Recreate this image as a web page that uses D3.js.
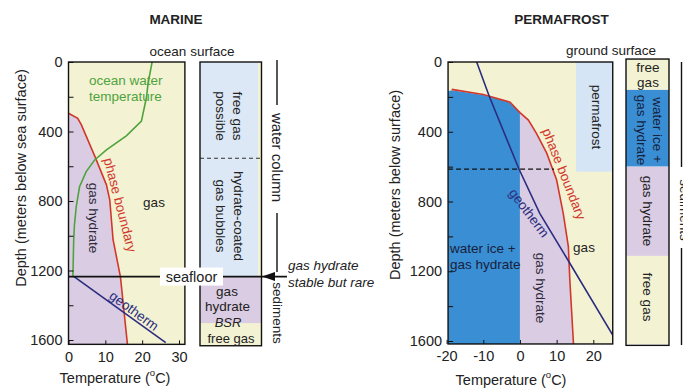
<!DOCTYPE html>
<html><head><meta charset="utf-8">
<script src="https://cdn.jsdelivr.net/npm/d3@7"></script>
<style>body{margin:0;background:#fff} svg{display:block} text{font-family:"Liberation Sans",Arial,sans-serif}</style>
</head><body>
<svg id="c" width="683" height="388"></svg>
<script>
// ---------- data ----------
const depthMajor = [0, 400, 800, 1200, 1600];
const depthMinor = [200, 600, 1000, 1400];
const marineTempTicks = [0, 10, 20, 30];
const permTempTicks = [-20, -10, 0, 10, 20];

// marine panel [temperature C, depth m]
const marinePhase = [[0,295],[2.5,324],[3.5,362],[7.1,540],[10.3,707],[11.2,793],[12.1,1023],[14.1,1236],[16.0,1625]];
const oceanTemp = [[22.7,0],[21.6,123],[21.2,200],[19.8,340],[15.7,425],[10.3,506],[7.1,564],[4.8,631],[3.0,718],[2.1,833],[1.6,940],[1.4,1030],[1.2,1235]];
const marineGeotherm = [[1.5,1235],[26.4,1615]];
const seafloorDepth = 1235;
const marineColumn = [ // [top, bottom, kind]
  [0, 1235, 'water'], [1235, 1504, 'hydrate'], [1504, 1633, 'gas']];
const marineColumnDash = 554;

// permafrost panel
const permPhase = [[-18.6,157],[-10,186],[-2.7,230],[0,290],[2.3,333],[4.5,409],[7.3,523],[10,677],[11.8,868],[13.2,1059],[13.6,1250],[14.6,1617]];
const permIceTop = [[-19.6,168],[-18.6,162],[-10,189],[-2.7,233],[0,290]];
const permGeotherm = [[-11.8,0],[-8.4,195],[-0.3,612],[5.4,868],[13.6,1154],[25.3,1566]];
const permafrostBase = 629;
const permDash = 614;
const permColumn = [[-17,160,'gas'],[160,600,'ice'],[600,1112,'hydrate'],[1112,1617,'gas']];

// ---------- style ----------
const C = {yellow:'#f3f2d3', purple:'#dacce3', lblue:'#dce8f5', blue:'#3a8ed3', pblue:'#d5e5f5',
  red:'#d2372c', green:'#4fa33d', navy:'#2c2d80', ink:'#222'};
const svg = d3.select('#c');

function label(x, y, s, o = {}) {
  const t = svg.append('text').attr('x', x).attr('y', y).text(s)
    .attr('font-size', o.size || 13.5).attr('fill', o.fill || C.ink)
    .attr('text-anchor', o.anchor || 'middle').attr('dominant-baseline', 'central');
  if (o.rotate != null) t.attr('transform', `rotate(${o.rotate},${x},${y})`);
  if (o.weight) t.attr('font-weight', o.weight);
  if (o.italic) t.attr('font-style', 'italic');
  return t;
}
function tempTitle(x, y) {
  const t = svg.append('text').attr('x', x).attr('y', y).attr('text-anchor', 'middle')
    .attr('font-size', 14.5).attr('fill', C.ink).attr('dominant-baseline', 'central');
  t.append('tspan').text('Temperature (');
  t.append('tspan').text('o').attr('font-size', 9.5).attr('dy', -6);
  t.append('tspan').text('C)').attr('dy', 6);
}
function axes(x, y, xTicks, xEdge, yEdge) {
  const x0 = x(xEdge[0]);
  const yb = y(yEdge);
  const styleAxis = g => {
    g.select('.domain').remove();
    g.selectAll('.tick line').attr('stroke', '#111');
    g.selectAll('.tick text').attr('font-size', 14.5).attr('fill', C.ink)
      .attr('font-family', '"Liberation Sans",Arial,sans-serif');
  };
  svg.append('g').attr('transform', `translate(${x0},0)`)
    .call(d3.axisLeft(y).tickValues(depthMajor).tickSize(-5).tickPadding(6).tickFormat(d => String(d))).call(styleAxis);
  svg.append('g').attr('transform', `translate(${x0},0)`)
    .call(d3.axisLeft(y).tickValues(depthMinor).tickSize(-5).tickFormat('')).call(styleAxis);
  svg.append('g').attr('transform', `translate(0,${yb})`)
    .call(d3.axisBottom(x).tickValues(xTicks).tickSize(-4).tickPadding(7)
      .tickFormat(d => d < 0 ? '-' + Math.abs(d) : String(d))).call(styleAxis);
}

// ================= MARINE =================
const xL = d3.scaleLinear().domain([0, 30]).range([68.5, 179]);
const yL = d3.scaleLinear().domain([0, 1600]).range([62, 340]);
const mEdgeT = [0, 31.6], mEdgeD = 1625;
const lineL = d3.line().x(d => xL(d[0])).y(d => yL(d[1]));

svg.append('defs').append('clipPath').attr('id', 'clipL').append('rect')
  .attr('x', xL(mEdgeT[0])).attr('y', yL(0)).attr('width', xL(mEdgeT[1]) - xL(mEdgeT[0])).attr('height', yL(mEdgeD) - yL(0));
const gL = svg.append('g').attr('clip-path', 'url(#clipL)');
gL.append('rect').attr('x', xL(mEdgeT[0])).attr('y', yL(0))
  .attr('width', xL(mEdgeT[1]) - xL(mEdgeT[0])).attr('height', yL(mEdgeD) - yL(0)).attr('fill', C.yellow);
gL.append('path').attr('d', lineL([[0, mEdgeD], ...marinePhase]) + 'Z').attr('fill', C.purple);
gL.append('path').attr('d', lineL(marinePhase)).attr('fill', 'none').attr('stroke', C.red).attr('stroke-width', 1.6);
gL.append('path').attr('d', lineL(oceanTemp)).attr('fill', 'none').attr('stroke', C.green).attr('stroke-width', 1.6);
gL.append('path').attr('d', lineL(marineGeotherm)).attr('fill', 'none').attr('stroke', C.navy).attr('stroke-width', 1.6);

axes(xL, yL, marineTempTicks, mEdgeT, mEdgeD);
svg.append('rect').attr('x', xL(mEdgeT[0])).attr('y', yL(0))
  .attr('width', xL(mEdgeT[1]) - xL(mEdgeT[0])).attr('height', yL(mEdgeD) - yL(0))
  .attr('fill', 'none').attr('stroke', '#111').attr('stroke-width', 1.4);

// marine column
const mcx0 = 200, mcx1 = 261.5;
svg.append('rect').attr('x', mcx0).attr('y', yL(0)).attr('width', mcx1 - mcx0).attr('height', yL(1633) - yL(0)).attr('fill', C.yellow);
marineColumn.forEach(([a, b, k]) => {
  svg.append('rect').attr('x', mcx0).attr('y', yL(a))
    .attr('width', (k === 'water' ? mcx1 - 3.5 : mcx1) - mcx0).attr('height', yL(b) - yL(a))
    .attr('fill', k === 'water' ? C.lblue : k === 'hydrate' ? C.purple : C.yellow);
});
svg.append('line').attr('x1', mcx0).attr('x2', mcx1).attr('y1', yL(marineColumnDash)).attr('y2', yL(marineColumnDash))
  .attr('stroke', '#333').attr('stroke-dasharray', '4,3').attr('stroke-width', 1);
svg.append('rect').attr('x', mcx0).attr('y', yL(0)).attr('width', mcx1 - mcx0).attr('height', yL(1633) - yL(0))
  .attr('fill', 'none').attr('stroke', '#111').attr('stroke-width', 1.4);

// seafloor line + arrow
const ySf = yL(seafloorDepth);
svg.append('line').attr('x1', xL(0)).attr('x2', 287).attr('y1', ySf).attr('y2', ySf).attr('stroke', '#111').attr('stroke-width', 1.6);
svg.append('path').attr('d', `M262,${ySf} L275,${ySf - 4.5} L275,${ySf + 4.5} Z`).attr('fill', '#111');
svg.append('rect').attr('x', 160).attr('y', ySf - 9).attr('width', 63).attr('height', 18).attr('fill', '#fff');
label(191.5, ySf, 'seafloor', {size: 14.5});

// marine texts
label(176, 19, 'MARINE', {size: 13.5, weight: 'bold'});
label(192, 51, 'ocean surface');
label(89, 80, 'ocean water', {anchor: 'start', fill: C.green});
label(89, 96, 'temperature', {anchor: 'start', fill: C.green});
label(93, 218, 'gas hydrate', {rotate: 90, fill: '#2e2a3a'});
label(120, 205, 'phase boundary', {rotate: 75.5, fill: C.red});
label(154, 202, 'gas');
label(134, 311, 'geotherm', {rotate: 36, fill: C.navy});
label(237.5, 116, 'free gas', {rotate: 90});
label(220, 116, 'possible', {rotate: 90});
label(238.5, 216, 'hydrate-coated', {rotate: 90});
label(220, 216, 'gas bubbles', {rotate: 90});
label(227, 291, 'gas');
label(227.5, 306.5, 'hydrate');
label(228, 322.5, 'BSR', {italic: true, size: 13});
label(231, 338.5, 'free gas', {size: 13});
label(288, 265, 'gas hydrate', {anchor: 'start', italic: true});
label(288, 282, 'stable but rare', {anchor: 'start', italic: true});
// water column / sediments markers
svg.append('line').attr('x1', 277).attr('x2', 277).attr('y1', 60).attr('y2', 105).attr('stroke', '#111').attr('stroke-width', 1.4);
svg.append('line').attr('x1', 277).attr('x2', 277).attr('y1', 213).attr('y2', 272).attr('stroke', '#111').attr('stroke-width', 1.4);
label(277, 157.5, 'water column', {rotate: 90, size: 15});
label(277, 313, 'sediments', {rotate: 90});
label(21, 178, 'Depth (meters below sea surface)', {rotate: -90, size: 14.5});
tempTitle(115, 378);

// ================= PERMAFROST =================
const xR = d3.scaleLinear().domain([-20, 20]).range([446.6, 593.3]);
const yR = d3.scaleLinear().domain([0, 1600]).range([62, 341]);
const pEdgeT = [-19.6, 25.3], pEdgeD = 1617;
const lineR = d3.line().x(d => xR(d[0])).y(d => yR(d[1]));

svg.select('defs').append('clipPath').attr('id', 'clipR').append('rect')
  .attr('x', xR(pEdgeT[0])).attr('y', yR(0)).attr('width', xR(pEdgeT[1]) - xR(pEdgeT[0])).attr('height', yR(pEdgeD) - yR(0));
const gR = svg.append('g').attr('clip-path', 'url(#clipR)');
gR.append('rect').attr('x', xR(pEdgeT[0])).attr('y', yR(0))
  .attr('width', xR(pEdgeT[1]) - xR(pEdgeT[0])).attr('height', yR(pEdgeD) - yR(0)).attr('fill', C.yellow);
gR.append('rect').attr('x', xR(15.3)).attr('y', yR(0)).attr('width', xR(pEdgeT[1]) - xR(15.3))
  .attr('height', yR(permafrostBase) - yR(0)).attr('fill', C.pblue);
gR.append('path').attr('d', lineR([[pEdgeT[0], pEdgeD], ...permIceTop, [0, pEdgeD]]) + 'Z').attr('fill', C.blue);
gR.append('path').attr('d', lineR([[0, pEdgeD], ...permPhase.filter(d => d[0] >= 0)]) + 'Z').attr('fill', C.purple);
gR.append('path').attr('d', lineR(permPhase)).attr('fill', 'none').attr('stroke', C.red).attr('stroke-width', 1.6);
gR.append('path').attr('d', lineR(permGeotherm)).attr('fill', 'none').attr('stroke', C.navy).attr('stroke-width', 1.6);
gR.append('line').attr('x1', xR(pEdgeT[0])).attr('x2', xR(9.3)).attr('y1', yR(permDash)).attr('y2', yR(permDash))
  .attr('stroke', '#111').attr('stroke-width', 1.3).attr('stroke-dasharray', '5,3');

axes(xR, yR, permTempTicks, pEdgeT, pEdgeD);
svg.append('rect').attr('x', xR(pEdgeT[0])).attr('y', yR(0))
  .attr('width', xR(pEdgeT[1]) - xR(pEdgeT[0])).attr('height', yR(pEdgeD) - yR(0))
  .attr('fill', 'none').attr('stroke', '#111').attr('stroke-width', 1.4);

// permafrost column
const pcx0 = 626, pcx1 = 669;
permColumn.forEach(([a, b, k]) => {
  svg.append('rect').attr('x', pcx0).attr('y', yR(a)).attr('width', pcx1 - pcx0).attr('height', yR(b) - yR(a))
    .attr('fill', k === 'ice' ? C.blue : k === 'hydrate' ? C.purple : C.yellow);
});
svg.append('rect').attr('x', pcx0).attr('y', yR(permColumn[0][0])).attr('width', pcx1 - pcx0)
  .attr('height', yR(pEdgeD + 8) - yR(permColumn[0][0]))
  .attr('fill', 'none').attr('stroke', '#111').attr('stroke-width', 1.4);
svg.append('line').attr('x1', 681.5).attr('x2', 681.5).attr('y1', 62).attr('y2', 167).attr('stroke', '#111').attr('stroke-width', 1.4);
svg.append('line').attr('x1', 681.5).attr('x2', 681.5).attr('y1', 248).attr('y2', 345).attr('stroke', '#111').attr('stroke-width', 1.4);
label(684.5, 210, 'sediments', {rotate: 90});

// permafrost texts
label(561.5, 19, 'PERMAFROST', {size: 13.5, weight: 'bold'});
label(611, 50, 'ground surface');
label(596, 117, 'permafrost', {rotate: 90});
label(564, 174, 'phase boundary', {rotate: 68.5, fill: C.red});
label(529, 213, 'geotherm', {rotate: 53, fill: C.navy});
label(584, 247, 'gas');
label(540, 288, 'gas hydrate', {rotate: 90, fill: '#2e2a3a'});
label(450, 248, 'water ice +', {anchor: 'start', fill: '#17223d'});
label(450, 264.5, 'gas hydrate', {anchor: 'start', fill: '#17223d'});
label(648, 67, 'free');
label(648, 82, 'gas');
label(657.5, 130, 'water ice +', {rotate: 90, fill: '#17223d'});
label(641.5, 130, 'gas hydrate', {rotate: 90, fill: '#17223d'});
label(647.5, 211, 'gas hydrate', {rotate: 90});
label(647.5, 297, 'free gas', {rotate: 90});
label(395, 185, 'Depth (meters below surface)', {rotate: -90, size: 14.5});
tempTitle(511, 380);
</script></body></html>
